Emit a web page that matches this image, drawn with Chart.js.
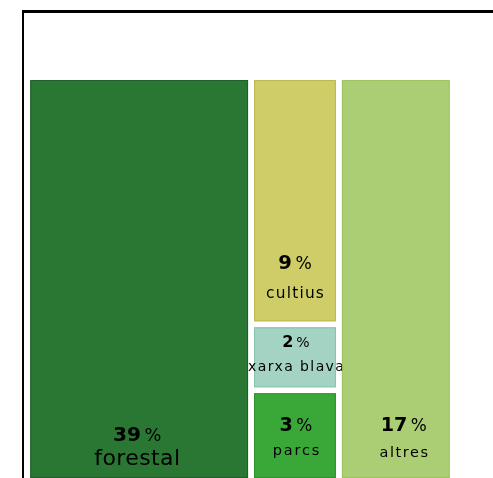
<!DOCTYPE html>
<html>
<head>
<meta charset="utf-8">
<script src="https://cdn.jsdelivr.net/npm/chart.js@4.4.1/dist/chart.umd.min.js"></script>
<style>
  html, body { margin: 0; padding: 0; background: #fff; width: 493px; height: 478px; overflow: hidden; }
  #frame { position: absolute; left: 22px; top: 10px; width: 600px; height: 600px;
           border-left: 2.5px solid #000; border-top: 3px solid #000; }
  #wrap { position: absolute; left: 0; top: 0; width: 493px; height: 500px; }
</style>
</head>
<body>
<div id="frame"></div>
<div id="wrap"><canvas id="tiles" width="493" height="500"></canvas></div>
<script>
"use strict";

const names = ["forestal", "cultius", "xarxa blava", "parcs", "altres"];
const shares = [39, 9, 2.4, 3.3, 17];   // % (labels show them rounded)
const column = [0, 1, 1, 1, 2];         // column of the mosaic each tile sits in
const fills = ["#2a7734", "#cfcd67", "#a4d3c3", "#3aa838", "#abcd73"];
const edges = ["#1f5f29", "#bdb851", "#86c3ae", "#2e922f", "#9bc55f"];

// mosaic layout: column widths (% of plot width) and label placement
const columnWidths = [52.6, 20.65, 26.75];
const labelLift = [[37.3, 13], [52.2, 23.8], [40, 16.7], [47.3, 23], [47.3, 21.3]];
const labelShift = [-2, 0, 1, 1, 8];
const numberSize = [20.2, 19.6, 16, 19.2, 19.2];
const nameSize = [22, 15.4, 14, 14.5, 14.5];
const nameSpacing = [0.4, 1.2, 1.4, 1.8, 1.6];

const colStart = [];
let acc = 0;
columnWidths.forEach(w => { colStart.push(acc); acc += w; });
const colCentre = columnWidths.map((w, i) => colStart[i] + w / 2);
const minGap = Math.min(...colCentre.slice(1).map((c, i) => c - colCentre[i]));
const colTotal = columnWidths.map((_, c) =>
  shares.filter((s, i) => column[i] === c).reduce((a, b) => a + b, 0));

const datasets = names.map((name, i) => ({
  label: name,
  data: [{ x: colCentre[column[i]], y: shares[i] / colTotal[column[i]] * 100 }],
  backgroundColor: fills[i],
  borderColor: "#ffffff",
  borderWidth: 3,
  borderSkipped: false,
  inflateAmount: 0,
  categoryPercentage: 1,
  barPercentage: columnWidths[column[i]] / minGap
}));

const tileText = {
  id: "tileText",
  afterDatasetsDraw(chart) {
    const ctx = chart.ctx;
    chart.data.datasets.forEach((ds, i) => {
      const bar = chart.getDatasetMeta(i).data[0];
      const { x, y, base, width } = bar.getProps(["x", "y", "base", "width"], true);
      const left = x - width / 2;
      const top = Math.min(y, base), bottom = Math.max(y, base);
      ctx.save();
      ctx.strokeStyle = edges[i];
      ctx.lineWidth = 1;
      ctx.strokeRect(left + 3.5, top + 3.5, width - 7, bottom - top - 7);

      const visBottom = Math.min(bottom, chart.chartArea.bottom) - 3;
      const cx = x + labelShift[i];
      ctx.fillStyle = "#000";
      ctx.textBaseline = "alphabetic";
      ctx.textAlign = "left";

      // bold number followed by a lighter "%"
      const num = String(Math.round(shares[i]));
      const numFont = `bold ${numberSize[i]}px "DejaVu Sans"`;
      const pctFont = `${numberSize[i] * 0.88}px "DejaVu Sans"`;
      ctx.font = numFont;
      const wNum = ctx.measureText(num).width;
      ctx.font = pctFont;
      const wPct = ctx.measureText("%").width;
      const gap = numberSize[i] * 0.18;
      const sx = cx - (wNum + gap + wPct) / 2;
      ctx.font = numFont;
      ctx.fillText(num, sx, visBottom - labelLift[i][0]);
      ctx.font = pctFont;
      ctx.fillText("%", sx + wNum + gap, visBottom - labelLift[i][0]);

      ctx.font = `${nameSize[i]}px "DejaVu Sans"`;
      ctx.letterSpacing = nameSpacing[i] + "px";
      const wName = ctx.measureText(names[i]).width - nameSpacing[i];
      ctx.fillText(names[i], cx - wName / 2, visBottom - labelLift[i][1]);
      ctx.restore();
    });
  }
};

new Chart(document.getElementById("tiles"), {
  type: "bar",
  data: { datasets },
  options: {
    responsive: false,
    animation: false,
    layout: { padding: { left: 27.3, top: 77, right: 40.3, bottom: 19 } },
    plugins: { legend: { display: false }, tooltip: { enabled: false } },
    scales: {
      x: { type: "linear", min: 0, max: 100, offset: false, grid: { offset: false },
           stacked: true, display: false, ticks: { stepSize: 100 } },
      y: { type: "linear", min: 0, max: 100, stacked: true, reverse: true, display: false,
           ticks: { stepSize: 100 } }
    }
  },
  plugins: [tileText]
});
</script>
</body>
</html>
